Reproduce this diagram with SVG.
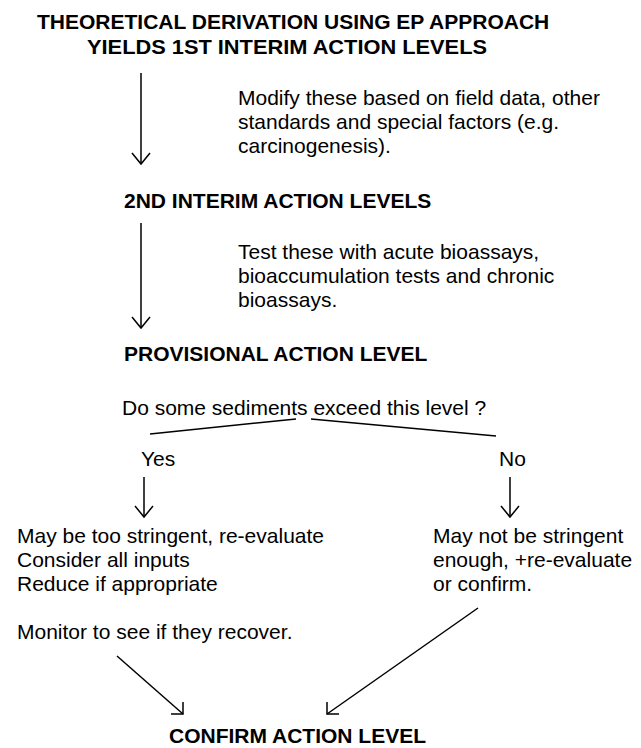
<svg xmlns="http://www.w3.org/2000/svg" width="641" height="748" viewBox="0 0 641 748">
<style>
text{font-family:"Liberation Sans",Arial,sans-serif;fill:#000;font-size:21px}
.b{font-weight:bold}
.c line,.c polyline{stroke:#000;stroke-width:1.5;fill:none}
</style>
<rect width="641" height="748" fill="#fff"/>
<g id="n1">
<text class="b" x="37" y="29">THEORETICAL DERIVATION USING EP APPROACH</text>
<text class="b" x="87" y="54" textLength="400" lengthAdjust="spacingAndGlyphs">YIELDS 1ST INTERIM ACTION LEVELS</text>
</g>
<g id="note1">
<text x="238" y="105">Modify these based on field data, other</text>
<text x="238" y="129">standards and special factors (e.g.</text>
<text x="238" y="153">carcinogenesis).</text>
</g>
<g id="n2">
<text class="b" x="124" y="208">2ND INTERIM ACTION LEVELS</text>
</g>
<g id="note2">
<text x="238" y="259">Test these with acute bioassays,</text>
<text x="238" y="283">bioaccumulation tests and chronic</text>
<text x="238" y="307">bioassays.</text>
</g>
<g id="n3">
<text class="b" x="124" y="361">PROVISIONAL ACTION LEVEL</text>
</g>
<g id="q">
<text x="122" y="415">Do some sediments exceed this level ?</text>
</g>
<g id="yes">
<text x="141" y="466">Yes</text>
</g>
<g id="no">
<text x="499" y="466">No</text>
</g>
<g id="yesText">
<text x="17" y="543">May be too stringent, re-evaluate</text>
<text x="17" y="567">Consider all inputs</text>
<text x="17" y="591">Reduce if appropriate</text>
</g>
<g id="noText">
<text x="433" y="543">May not be stringent</text>
<text x="433" y="567">enough, +re-evaluate</text>
<text x="433" y="591">or confirm.</text>
</g>
<g id="monitor">
<text x="17" y="639">Monitor to see if they recover.</text>
</g>
<g id="n4">
<text class="b" x="169" y="743">CONFIRM ACTION LEVEL</text>
</g>
<g id="connectors" class="c">
<line x1="141" y1="73" x2="141" y2="164"/>
<polyline points="132,153 141,164 150,153"/>
<line x1="141" y1="223" x2="141" y2="328"/>
<polyline points="132,317 141,328 150,317"/>
<line x1="150" y1="434" x2="296" y2="419"/>
<line x1="311" y1="419" x2="496" y2="436"/>
<line x1="144" y1="477" x2="144" y2="517"/>
<polyline points="135,506 144,517 153,506"/>
<line x1="510" y1="477" x2="510" y2="517"/>
<polyline points="501,506 510,517 519,506"/>
<line x1="117" y1="656" x2="183" y2="714"/>
<polyline points="183,702 183,714 171,714"/>
<line x1="478" y1="608" x2="327" y2="714"/>
<polyline points="327,702 327,714 339,714"/>
</g>
</svg>
